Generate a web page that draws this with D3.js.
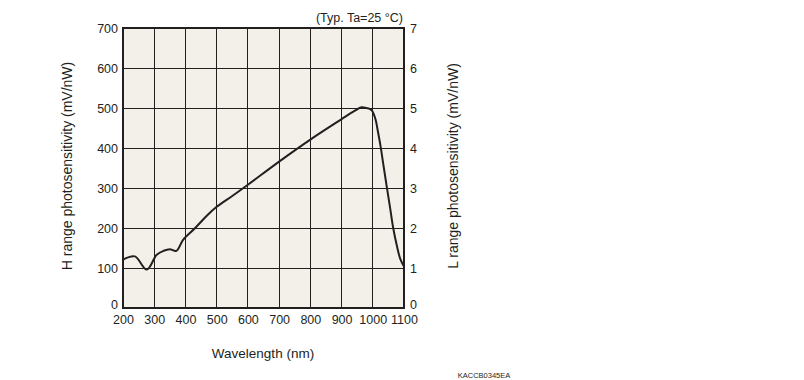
<!DOCTYPE html>
<html><head><meta charset="utf-8">
<script src="https://cdn.jsdelivr.net/npm/d3@7"></script>
<style>body{margin:0;background:#fff;}text{font-family:"Liberation Sans",Arial,sans-serif;fill:#231f20;}</style>
</head><body><svg id="c" width="804" height="380"></svg>
<script>
const wavelength = [200,238,276,308,330,350,371,393,431,470,500,550,600,700,800,900,940,964,980,990,997,1009,1016,1025,1034,1045,1056,1065,1077,1088,1100];
const hSens      = [121,129,96,133,143,147,143,171,200,232,253,280,308,366,421,472,492,502,500,498,494,471,443,404,358,302,248,202,156,123,104];
const xTicks = [200,300,400,500,600,700,800,900,1000,1100];
const hTicks = [0,100,200,300,400,500,600,700];
const lTicks = [0,1,2,3,4,5,6,7];

const svg = d3.select("#c");
const L=123, R=404, T=28, B=308;
const x = d3.scaleLinear().domain([200,1100]).range([L,R]);
const y = d3.scaleLinear().domain([0,700]).range([B,T]);
const y2 = d3.scaleLinear().domain([0,7]).range([B,T]);

svg.append("rect").attr("x",L).attr("y",T).attr("width",R-L).attr("height",B-T).attr("fill","#f3f0ea");
const g = svg.append("g");
g.selectAll(".vx").data(xTicks).join("line").attr("x1",d=>x(d)).attr("x2",d=>x(d)).attr("y1",T).attr("y2",B).attr("stroke","#231f20").attr("stroke-width",1).attr("shape-rendering","crispEdges");
g.selectAll(".hy").data(hTicks).join("line").attr("y1",d=>y(d)).attr("y2",d=>y(d)).attr("x1",L).attr("x2",R).attr("stroke","#231f20").attr("stroke-width",1).attr("shape-rendering","crispEdges");
svg.append("rect").attr("x",L).attr("y",T).attr("width",R-L).attr("height",B-T).attr("fill","none").attr("stroke","#231f20").attr("stroke-width",1.2).attr("shape-rendering","crispEdges");

const fs = 12.5;
const fmt = d3.format("d");
function style(s){
  s.select(".domain").remove();
  s.selectAll("text").attr("font-size",fs).attr("font-family",null).attr("fill","#231f20");
}
const ax = d3.axisLeft(y).tickValues(hTicks).tickFormat(fmt).tickSize(0).tickPadding(5);
svg.append("g").attr("transform",`translate(${L},0)`).call(ax).call(style)
  .selectAll(".tick").filter(d=>d===0).select("text").attr("dy","0.05em");
const ar = d3.axisRight(y2).tickValues(lTicks).tickFormat(fmt).tickSize(0).tickPadding(6);
svg.append("g").attr("transform",`translate(${R},0)`).call(ar).call(style)
  .selectAll(".tick").filter(d=>d===0).select("text").attr("dy","0.05em");
const ab = d3.axisBottom(x).tickValues(xTicks).tickFormat(fmt).tickSize(0).tickPadding(7);
svg.append("g").attr("transform",`translate(0,${B})`).call(ab).call(style);

const line = d3.line().x((d,i)=>x(wavelength[i])).y(d=>y(d)).curve(d3.curveCatmullRom.alpha(0.5));
svg.append("path").datum(hSens).attr("d",line).attr("fill","none").attr("stroke","#231f20").attr("stroke-width",2);

svg.append("text").attr("transform","translate(72,166) rotate(-90)").attr("text-anchor","middle").attr("font-size",14).text("H range photosensitivity (mV/nW)");
svg.append("text").attr("transform","translate(458,166) rotate(-90)").attr("text-anchor","middle").attr("font-size",14).text("L range photosensitivity (mV/nW)");
svg.append("text").attr("x",263).attr("y",358).attr("text-anchor","middle").attr("font-size",13.5).text("Wavelength (nm)");
svg.append("text").attr("x",403).attr("y",22).attr("text-anchor","end").attr("font-size",12.5).text("(Typ. Ta=25 °C)");
svg.append("text").attr("x",484).attr("y",378).attr("text-anchor","middle").attr("font-size",7.5).text("KACCB0345EA");
</script></body></html>
